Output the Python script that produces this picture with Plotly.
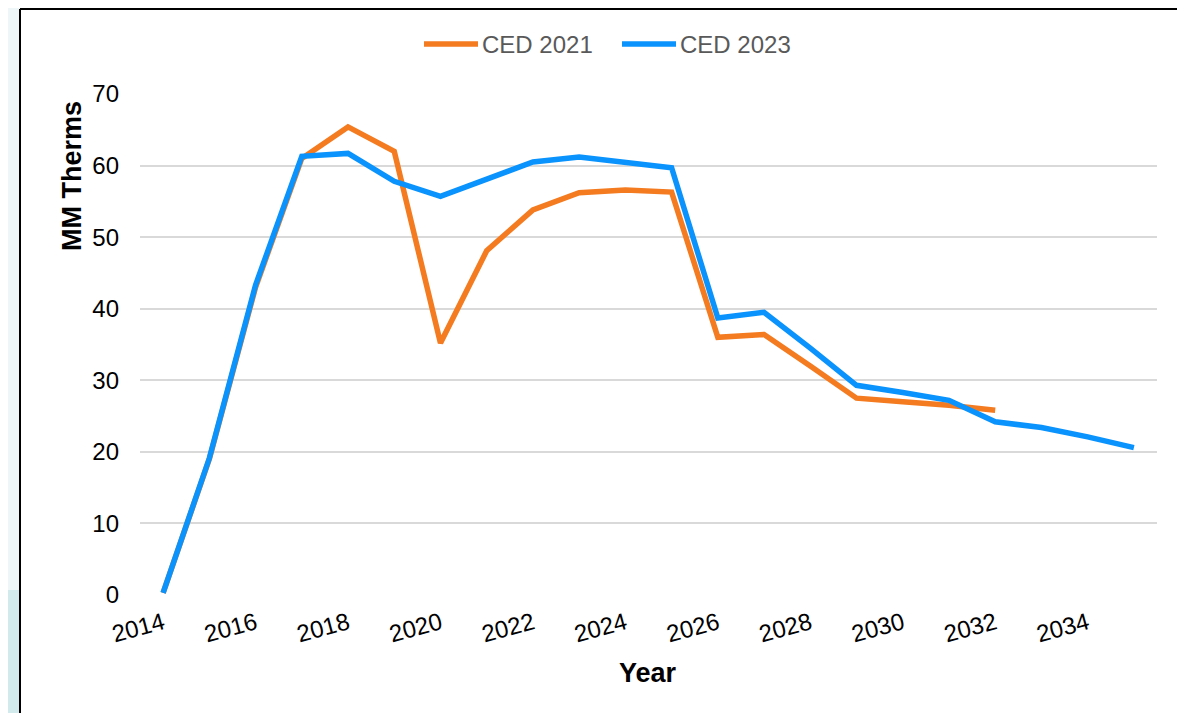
import plotly.graph_objects as go

years = list(range(2014, 2036))
ced_2021_years = list(range(2014, 2033))
ced_2021 = [0.3, 19.0, 43.0, 61.0, 65.4, 62.0, 35.2, 48.1, 53.8, 56.2, 56.6, 56.3,
            36.0, 36.4, 32.0, 27.5, 27.0, 26.5, 25.8]
ced_2023_years = list(range(2014, 2036))
ced_2023 = [0.3, 19.1, 43.3, 61.3, 61.7, 57.8, 55.7, 58.2, 60.5, 61.2, 60.5, 59.7,
            38.7, 39.5, 34.5, 29.3, 28.3, 27.2, 24.2, 23.4, 22.1, 20.6]
series_names = ["CED 2021", "CED 2023"]
x_ticks = list(range(2014, 2035, 2))
y_ticks = [0, 10, 20, 30, 40, 50, 60, 70]

ORANGE = "#F47B20"
BLUE = "#0A93FC"
FONT = "Liberation Sans, Arial, sans-serif"

# the page body has an 8px margin; size the figure to fill the rest of the window
OFF = 8
W, H = 1185 - OFF, 713 - OFF
L, R, T, B = 140 - OFF, 28, 94 - OFF, 118
pw, ph = W - L - R, H - T - B


def px(x):
    """window pixel x -> paper x"""
    return (x - OFF - L) / pw


def py(y):
    """window pixel y -> paper y"""
    return (OFF + H - B - y) / ph


fig = go.Figure()
fig.add_trace(go.Scatter(x=ced_2021_years, y=ced_2021, mode="lines", name=series_names[0],
                         line=dict(color=ORANGE, width=5.5), showlegend=False))
fig.add_trace(go.Scatter(x=ced_2023_years, y=ced_2023, mode="lines", name=series_names[1],
                         line=dict(color=BLUE, width=5.5), showlegend=False))

fig.update_layout(
    width=W, height=H,
    margin=dict(l=L, r=R, t=T, b=B),
    paper_bgcolor="white", plot_bgcolor="white",
    font=dict(family=FONT, size=24, color="black"),
    showlegend=False,
    xaxis=dict(range=[2013.5, 2035.5], tickvals=x_ticks, ticktext=[str(v) for v in x_ticks],
               tickangle=-15, showgrid=False, zeroline=False, showline=False,
               tickfont=dict(size=24, color="black"), ticklabelstandoff=9),
    yaxis=dict(range=[0, 70], tickvals=y_ticks, showgrid=True, gridcolor="#D9D9D9",
               gridwidth=1.5, zeroline=False, showline=False,
               tickfont=dict(size=24, color="black"), ticklabelstandoff=20),
)

# legend drawn at the top, centred like the original
legend_items = [(series_names[0], ORANGE, 424), (series_names[1], BLUE, 622)]
for name, color, x0 in legend_items:
    fig.add_shape(type="line", xref="paper", yref="paper", x0=px(x0), x1=px(x0 + 54),
                  y0=py(44), y1=py(44), line=dict(color=color, width=5.5))
    fig.add_annotation(text=name, xref="paper", yref="paper", x=px(x0 + 56), y=py(44),
                       showarrow=False, xanchor="left", yanchor="middle",
                       font=dict(size=24, color="#595959"))

fig.add_annotation(text="<b>MM Therms</b>", xref="paper", yref="paper", x=px(72), y=py(176),
                   textangle=-90, showarrow=False, font=dict(size=27, color="black"),
                   xanchor="center", yanchor="middle")
fig.add_annotation(text="<b>Year</b>", xref="paper", yref="paper", x=px(648), y=py(673),
                   showarrow=False, font=dict(size=27, color="black"),
                   xanchor="center", yanchor="middle")

# slide background strip and chart frame
fig.add_shape(type="rect", xref="paper", yref="paper", x0=px(0), x1=px(20), y0=py(0), y1=py(590),
              fillcolor="#EEF6F7", line=dict(width=0), layer="below")
fig.add_shape(type="rect", xref="paper", yref="paper", x0=px(0), x1=px(20), y0=py(590), y1=py(713),
              fillcolor="#D3EAEC", line=dict(width=0), layer="below")
fig.add_shape(type="line", xref="paper", yref="paper", x0=px(20), x1=px(20), y0=py(9), y1=py(713),
              line=dict(color="black", width=2))
fig.add_shape(type="line", xref="paper", yref="paper", x0=px(20), x1=px(1185), y0=py(9), y1=py(9),
              line=dict(color="black", width=2))

fig.write_html("out.html")
